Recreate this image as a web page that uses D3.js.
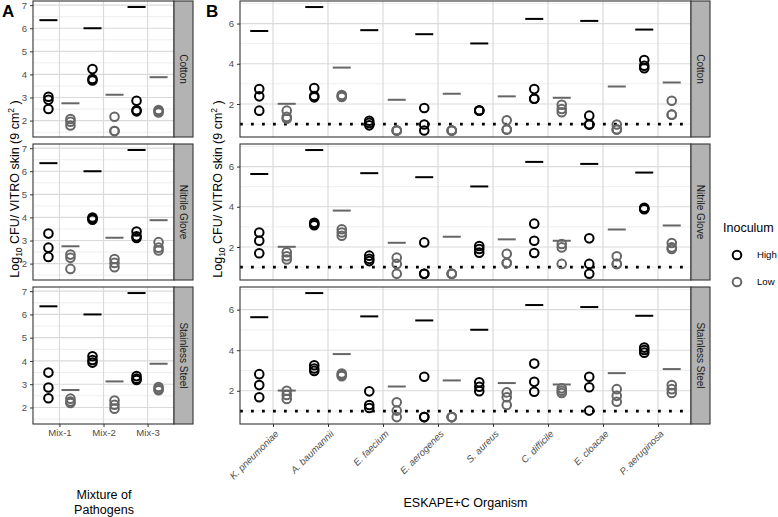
<!DOCTYPE html>
<html><head><meta charset="utf-8">
<script src="https://cdn.jsdelivr.net/npm/d3@7"></script>
<style>body{margin:0;background:#fff}svg{display:block;font-family:"Liberation Sans",Arial,sans-serif}</style>
</head><body><svg id="c" width="778" height="517"></svg>
<script>
// ---------- data ----------
const surfaces = ["Cotton", "Nitrile Glove", "Stainless Steel"];
const inoculum = ["High", "Low"];
const mixes = ["Mix-1", "Mix-2", "Mix-3"];
const organisms = ["K. pneumoniae", "A. baumannii", "E. faecium", "E. aerogenes", "S. aureus", "C. difficile", "E. cloacae", "P. aeruginosa"];
const mixYTicks = [2, 3, 4, 5, 6, 7];
const orgYTicks = [2, 4, 6];
const lod = 1.0;

// inoculum reference levels (horizontal bars)
const mixInocHigh = [6.35, 6.0, 6.92];
const mixInocLow = [2.75, 3.12, 3.88];
const orgInocHigh = [5.63, 6.82, 5.67, 5.47, 5.01, 6.23, 6.13, 5.7];
const orgInocLow = [2.01, 3.81, 2.21, 2.51, 2.38, 2.31, 2.87, 3.07];

// Panel A: recovered values per mix, per surface
const mixCottonHigh = [[3.03, 2.9, 2.5], [4.23, 3.8, 3.74], [2.86, 2.45, 2.4]];
const mixCottonLow = [[2.07, 1.95, 1.79], [2.17, 1.55, 1.55], [2.46, 2.4, 2.35]];
const mixNitrileHigh = [[3.3, 2.69, 2.29], [4.0, 3.95, 3.9], [3.39, 3.18, 3.11]];
const mixNitrileLow = [[2.39, 2.25, 1.77], [2.2, 2.03, 1.84], [2.93, 2.69, 2.57]];
const mixSteelHigh = [[3.5, 2.86, 2.4], [4.2, 4.04, 3.93], [3.35, 3.24, 3.18]];
const mixSteelLow = [[2.38, 2.26, 2.19], [2.3, 2.12, 1.95], [2.88, 2.8, 2.74]];

// Panel B: recovered values per organism, per surface
const orgCottonHigh = [[2.74, 2.38, 1.67], [2.79, 2.4, 2.33], [1.17, 1.06, 0.94], [1.8, 0.98, 0.68], [1.68, 1.68, 1.68], [2.74, 2.26, 2.26], [1.42, 0.98, 0.98], [4.19, 3.9, 3.78]];
const orgCottonLow = [[1.67, 1.36, 1.27], [2.45, 2.4, 2.35], [0.68, 0.68, 0.68], [0.68, 0.68, 0.68], [1.19, 0.73, 0.73], [1.96, 1.75, 1.59], [0.98, 0.73, 0.73], [2.16, 1.47, 1.47]];
const orgNitrileHigh = [[2.72, 2.31, 1.69], [3.2, 3.15, 3.08], [1.57, 1.41, 1.3], [2.23, 0.67, 0.67], [2.05, 1.9, 1.72], [3.16, 2.31, 1.7], [2.43, 1.16, 0.67], [3.95, 3.9, 3.88]];
const orgNitrileLow = [[1.74, 1.54, 1.38], [2.88, 2.72, 2.56], [1.47, 1.16, 0.67], [0.67, 0.67, 0.67], [1.66, 1.2, 1.2], [2.15, 1.98, 1.16], [1.54, 1.16, 1.16], [2.2, 1.98, 1.9]];
const orgSteelHigh = [[2.82, 2.28, 1.68], [3.26, 3.1, 2.98], [1.97, 1.3, 1.15], [2.69, 0.7, 0.7], [2.42, 2.2, 1.98], [3.34, 2.44, 1.95], [2.69, 2.17, 1.02], [4.13, 4.01, 3.88]];
const orgSteelLow = [[2.0, 1.79, 1.59], [2.85, 2.78, 2.72], [1.43, 1.02, 0.7], [0.7, 0.7, 0.7], [1.92, 1.68, 1.3], [2.12, 2.0, 1.89], [2.08, 1.75, 1.46], [2.28, 2.08, 1.89]];

// ---------- drawing ----------
const svg = d3.select("#c");
const colors = {High: "#000000", Low: "#666666"};
const rows = [{y0: 1, y1: 137}, {y0: 144, y1: 280}, {y0: 287, y1: 424}];
const stripW = 19;

function drawPanel(cfg) {
  const {x0, x1, cats, domain, majors, minors, inocHigh, inocLow, data, drawLod} = cfg;
  const x = d3.scalePoint().domain(cats).range([x0, x1]).padding(0.6);
  const step = x.step();
  rows.forEach((r, ri) => {
    const y = d3.scaleLinear().domain(domain).range([r.y1, r.y0]);
    const g = svg.append("g");
    g.append("rect").attr("x", x0).attr("y", r.y0).attr("width", x1 - x0).attr("height", r.y1 - r.y0).attr("fill", "#fff");
    g.selectAll(".mi").data(minors).join("line")
      .attr("x1", x0).attr("x2", x1).attr("y1", d => y(d)).attr("y2", d => y(d))
      .attr("stroke", "#e6e6e6").attr("stroke-width", 0.7);
    g.selectAll(".ma").data(majors).join("line")
      .attr("x1", x0).attr("x2", x1).attr("y1", d => y(d)).attr("y2", d => y(d))
      .attr("stroke", "#dadada").attr("stroke-width", 1.2);
    g.selectAll(".mv").data(cats).join("line")
      .attr("x1", d => x(d)).attr("x2", d => x(d)).attr("y1", r.y0).attr("y2", r.y1)
      .attr("stroke", "#dadada").attr("stroke-width", 1.2);
    if (drawLod) {
      g.append("line").attr("x1", x0).attr("x2", x1).attr("y1", y(lod)).attr("y2", y(lod))
        .attr("stroke", "#000").attr("stroke-width", 2.8).attr("stroke-dasharray", "2.8,8.2");
    }
    [["High", inocHigh, -1], ["Low", inocLow, 1]].forEach(([lv, arr, s]) => {
      g.selectAll(null).data(arr).join("line")
        .attr("x1", (d, i) => x(cats[i]) + s * step * 0.25 - 9)
        .attr("x2", (d, i) => x(cats[i]) + s * step * 0.25 + 9)
        .attr("y1", d => y(d)).attr("y2", d => y(d))
        .attr("stroke", colors[lv]).attr("stroke-width", 2);
    });
    const sd = data[ri];
    [["High", sd.high, -1], ["Low", sd.low, 1]].forEach(([lv, arr, s]) => {
      arr.forEach((vals, i) => {
        g.selectAll(null).data(vals).join("circle")
          .attr("cx", x(cats[i]) + s * step * 0.25)
          .attr("cy", d => y(d)).attr("r", 4.3)
          .attr("fill", "none").attr("stroke", colors[lv]).attr("stroke-width", 2);
      });
    });
    g.append("rect").attr("x", x0).attr("y", r.y0).attr("width", x1 - x0).attr("height", r.y1 - r.y0)
      .attr("fill", "none").attr("stroke", "#333").attr("stroke-width", 1.1);
    g.append("rect").attr("x", x1).attr("y", r.y0).attr("width", stripW).attr("height", r.y1 - r.y0)
      .attr("fill", "#b3b3b3").attr("stroke", "#333").attr("stroke-width", 1.1);
    g.append("text").attr("transform", `translate(${x1 + stripW / 2},${(r.y0 + r.y1) / 2}) rotate(90)`)
      .attr("text-anchor", "middle").attr("dy", "0.35em").attr("font-size", 10).attr("fill", "#1a1a1a")
      .text(surfaces[ri]);
    const ax = g.append("g").attr("transform", `translate(${x0},0)`)
      .call(d3.axisLeft(y).tickValues(majors).tickSize(3).tickPadding(3).tickFormat(d3.format("d")));
    ax.select(".domain").remove();
    ax.selectAll("line").attr("stroke", "#333");
    ax.selectAll("text").attr("font-size", 9.6).attr("fill", "#4d4d4d").attr("font-family", "Liberation Sans, Arial, sans-serif");
  });
  return x;
}

const mixData = [
  {high: mixCottonHigh, low: mixCottonLow},
  {high: mixNitrileHigh, low: mixNitrileLow},
  {high: mixSteelHigh, low: mixSteelLow}];
const orgData = [
  {high: orgCottonHigh, low: orgCottonLow},
  {high: orgNitrileHigh, low: orgNitrileLow},
  {high: orgSteelHigh, low: orgSteelLow}];

const xA = drawPanel({x0: 33, x1: 174, cats: mixes, domain: [1.29, 7.18], majors: mixYTicks,
  minors: [1.5, 2.5, 3.5, 4.5, 5.5, 6.5], inocHigh: mixInocHigh, inocLow: mixInocLow, data: mixData, drawLod: false});
const xB = drawPanel({x0: 240, x1: 691, cats: organisms, domain: [0.36, 7.12], majors: orgYTicks,
  minors: [1, 3, 5, 7], inocHigh: orgInocHigh, inocLow: orgInocLow, data: orgData, drawLod: true});

const axA = svg.append("g").attr("transform", "translate(0,424)").call(d3.axisBottom(xA).tickSize(3).tickPadding(2));
axA.select(".domain").remove();
axA.selectAll("line").attr("stroke", "#333");
axA.selectAll("text").attr("font-size", 9.6).attr("fill", "#4d4d4d").attr("font-family", "Liberation Sans, Arial, sans-serif");

const axB = svg.append("g").attr("transform", "translate(0,424)").call(d3.axisBottom(xB).tickSize(3).tickFormat(""));
axB.select(".domain").remove();
axB.selectAll("line").attr("stroke", "#333");
svg.append("g").selectAll("text").data(organisms).join("text")
  .attr("transform", d => `translate(${xB(d) + 4},${432}) rotate(-45)`)
  .attr("text-anchor", "end").attr("dy", "0.35em")
  .attr("font-size", 9.6).attr("fill", "#4d4d4d").attr("font-style", "italic").text(d => d);

function yTitle(cx, cy) {
  const t = svg.append("text").attr("transform", `translate(${cx},${cy}) rotate(-90)`)
    .attr("text-anchor", "middle").attr("font-size", 12.5).attr("fill", "#000");
  t.append("tspan").text("Log");
  t.append("tspan").attr("font-size", 8.5).attr("dy", 3).text("10");
  t.append("tspan").attr("dy", -3).text(" CFU/ VITRO skin (9 cm");
  t.append("tspan").attr("font-size", 8.5).attr("dy", -5).text("2");
  t.append("tspan").attr("dy", 5).text(" )");
}
yTitle(19, 189);
yTitle(222, 189);

svg.append("text").attr("x", 104).attr("y", 499).attr("text-anchor", "middle").attr("font-size", 12.5).text("Mixture of");
svg.append("text").attr("x", 104).attr("y", 514).attr("text-anchor", "middle").attr("font-size", 12.5).text("Pathogens");
svg.append("text").attr("x", 465.5).attr("y", 507).attr("text-anchor", "middle").attr("font-size", 12.5).text("ESKAPE+C Organism");

svg.append("text").attr("x", 2).attr("y", 17).attr("font-size", 17).attr("font-weight", "bold").text("A");
svg.append("text").attr("x", 206).attr("y", 17).attr("font-size", 17).attr("font-weight", "bold").text("B");

svg.append("text").attr("x", 723).attr("y", 232).attr("font-size", 12.5).text("Inoculum");
const lg = svg.append("g").selectAll("g").data(inoculum).join("g")
  .attr("transform", (d, i) => `translate(737,${255 + i * 27})`);
lg.append("circle").attr("r", 4.3).attr("fill", "none").attr("stroke", d => colors[d]).attr("stroke-width", 2);
lg.append("text").attr("x", 20).attr("dy", "0.35em").attr("font-size", 9.6).attr("fill", "#000").text(d => d);
</script></body></html>
